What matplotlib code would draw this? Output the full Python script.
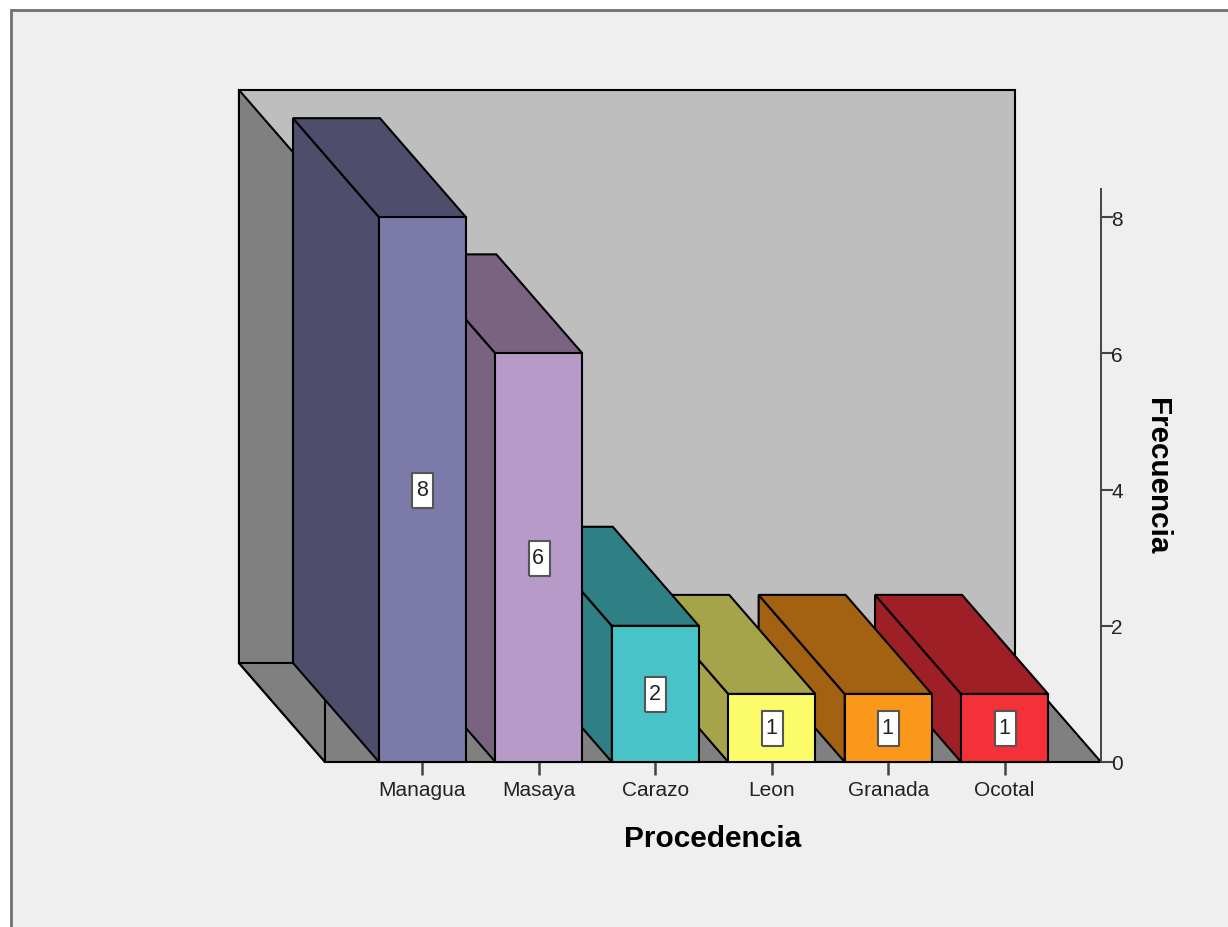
import matplotlib
matplotlib.use("Agg")
import matplotlib.pyplot as plt
from matplotlib.patches import Polygon, Rectangle

plt.rcParams["font.family"] = ["Liberation Sans", "DejaVu Sans"]

# Datos del grafico
procedencias = ["Managua", "Masaya", "Carazo", "Leon", "Granada", "Ocotal"]
frecuencias = [8, 6, 2, 1, 1, 1]
ticks_y = [0, 2, 4, 6, 8]

# Colores de cada barra (cara frontal y caras en sombra)
colores_frente = ["#7b7aa8", "#b79ac8", "#48c4c8", "#fcfc6a", "#fb981b", "#f43039"]
colores_sombra = ["#4e4e6c", "#7a6381", "#2f8084", "#a6a44a", "#a36212", "#9e1f25"]

ancho_barra = 0.747
prof_x = -0.739  # desplazamiento de la profundidad en unidades de categoria
prof_y = 1.454   # desplazamiento de la profundidad en unidades de frecuencia
x_min, x_max = -0.8375, 5.8285
y_max = 8.414

color_fondo = "#efefef"
grosor = 1.5

# Forma de la etiqueta de valor (rectangulo vertical, cerrado)
caja = [(-10.5, -17.5), (10.5, -17.5), (10.5, 17.5), (-10.5, 17.5), (-10.5, -17.5)]

fig = plt.figure(figsize=(12.28, 9.28), dpi=100, facecolor="white")

# Marco gris del visor
marco = Rectangle((11 / 1228, -0.1), 1.1, 1.1 - 11.5 / 928, transform=fig.transFigure,
                  facecolor=color_fondo, edgecolor="#707070", linewidth=2, zorder=-1)
fig.add_artist(marco)

ax = fig.add_axes([325 / 1228, (928 - 763) / 928, (1101 - 325) / 1228, (763 - 190) / 928])
ax.set_xlim(x_min, x_max)
ax.set_ylim(0, y_max)
ax.patch.set_visible(False)


def cara(puntos, color, orden):
    ax.add_patch(Polygon(puntos, closed=True, facecolor=color, edgecolor="black",
                         linewidth=grosor, joinstyle="miter", clip_on=False, zorder=orden))


# Paredes y piso de la caja
fondo_x0, fondo_x1 = x_min + prof_x, x_max + prof_x
cara([(fondo_x0, prof_y), (fondo_x1, prof_y), (fondo_x1, y_max + prof_y), (fondo_x0, y_max + prof_y)], "#bebebe", 1)
cara([(fondo_x0, prof_y), (x_min, 0), (x_min, y_max), (fondo_x0, y_max + prof_y)], "#808080", 1.1)
cara([(fondo_x0, prof_y), (fondo_x1, prof_y), (x_max, 0), (x_min, 0)], "#808080", 1.2)
# Arista frontal de la pared izquierda, se ve sobre el piso
ax.plot([x_min, x_min], [0, y_max], color="black", linewidth=grosor, clip_on=False, zorder=1.3)

# Barras de derecha a izquierda para que las de adelante tapen a las otras
for i in range(len(frecuencias) - 1, -1, -1):
    h = frecuencias[i]
    x0 = i - ancho_barra / 2
    x1 = i + ancho_barra / 2
    orden = 10 - i
    cara([(x0, 0), (x0 + prof_x, prof_y), (x0 + prof_x, h + prof_y), (x0, h)], colores_sombra[i], orden)
    cara([(x0, h), (x0 + prof_x, h + prof_y), (x1 + prof_x, h + prof_y), (x1, h)], colores_sombra[i], orden)
    cara([(x0, 0), (x1, 0), (x1, h), (x0, h)], colores_frente[i], orden)
    ax.plot([i], [h / 2], marker=caja, markersize=25.2, markerfacecolor="white", markeredgecolor="#555555",
            markeredgewidth=1.5, linestyle="none", zorder=orden + 0.4)
    ax.text(i - 0.005, h / 2, str(h), ha="center", va="center", fontsize=15.5, color="#222222", zorder=orden + 0.5)

# Ejes
for lado in ["top", "left", "bottom"]:
    ax.spines[lado].set_visible(False)
ax.spines["right"].set_color("#444444")
ax.spines["right"].set_linewidth(1.4)

ax.set_xticks(range(len(procedencias)))
ax.set_xticklabels(procedencias)
ax.yaxis.tick_right()
ax.set_yticks(ticks_y)
ax.tick_params(axis="x", length=9, width=1.8, color="#444444", labelsize=15, labelcolor="#222222", pad=4)
ax.tick_params(axis="y", length=8.5, width=1.5, color="#444444", labelsize=15, labelcolor="#222222", pad=-1)

fig.text(713 / 1228, 1 - 839 / 928, "Procedencia", fontsize=21.5, fontweight="bold", ha="center", va="center", color="black")
fig.text(1157 / 1228, 1 - 476 / 928, "Frecuencia", fontsize=21.3, fontweight="bold", rotation=-90,
         ha="center", va="center", color="black")

plt.savefig("out.png", dpi=100, facecolor=fig.get_facecolor())
